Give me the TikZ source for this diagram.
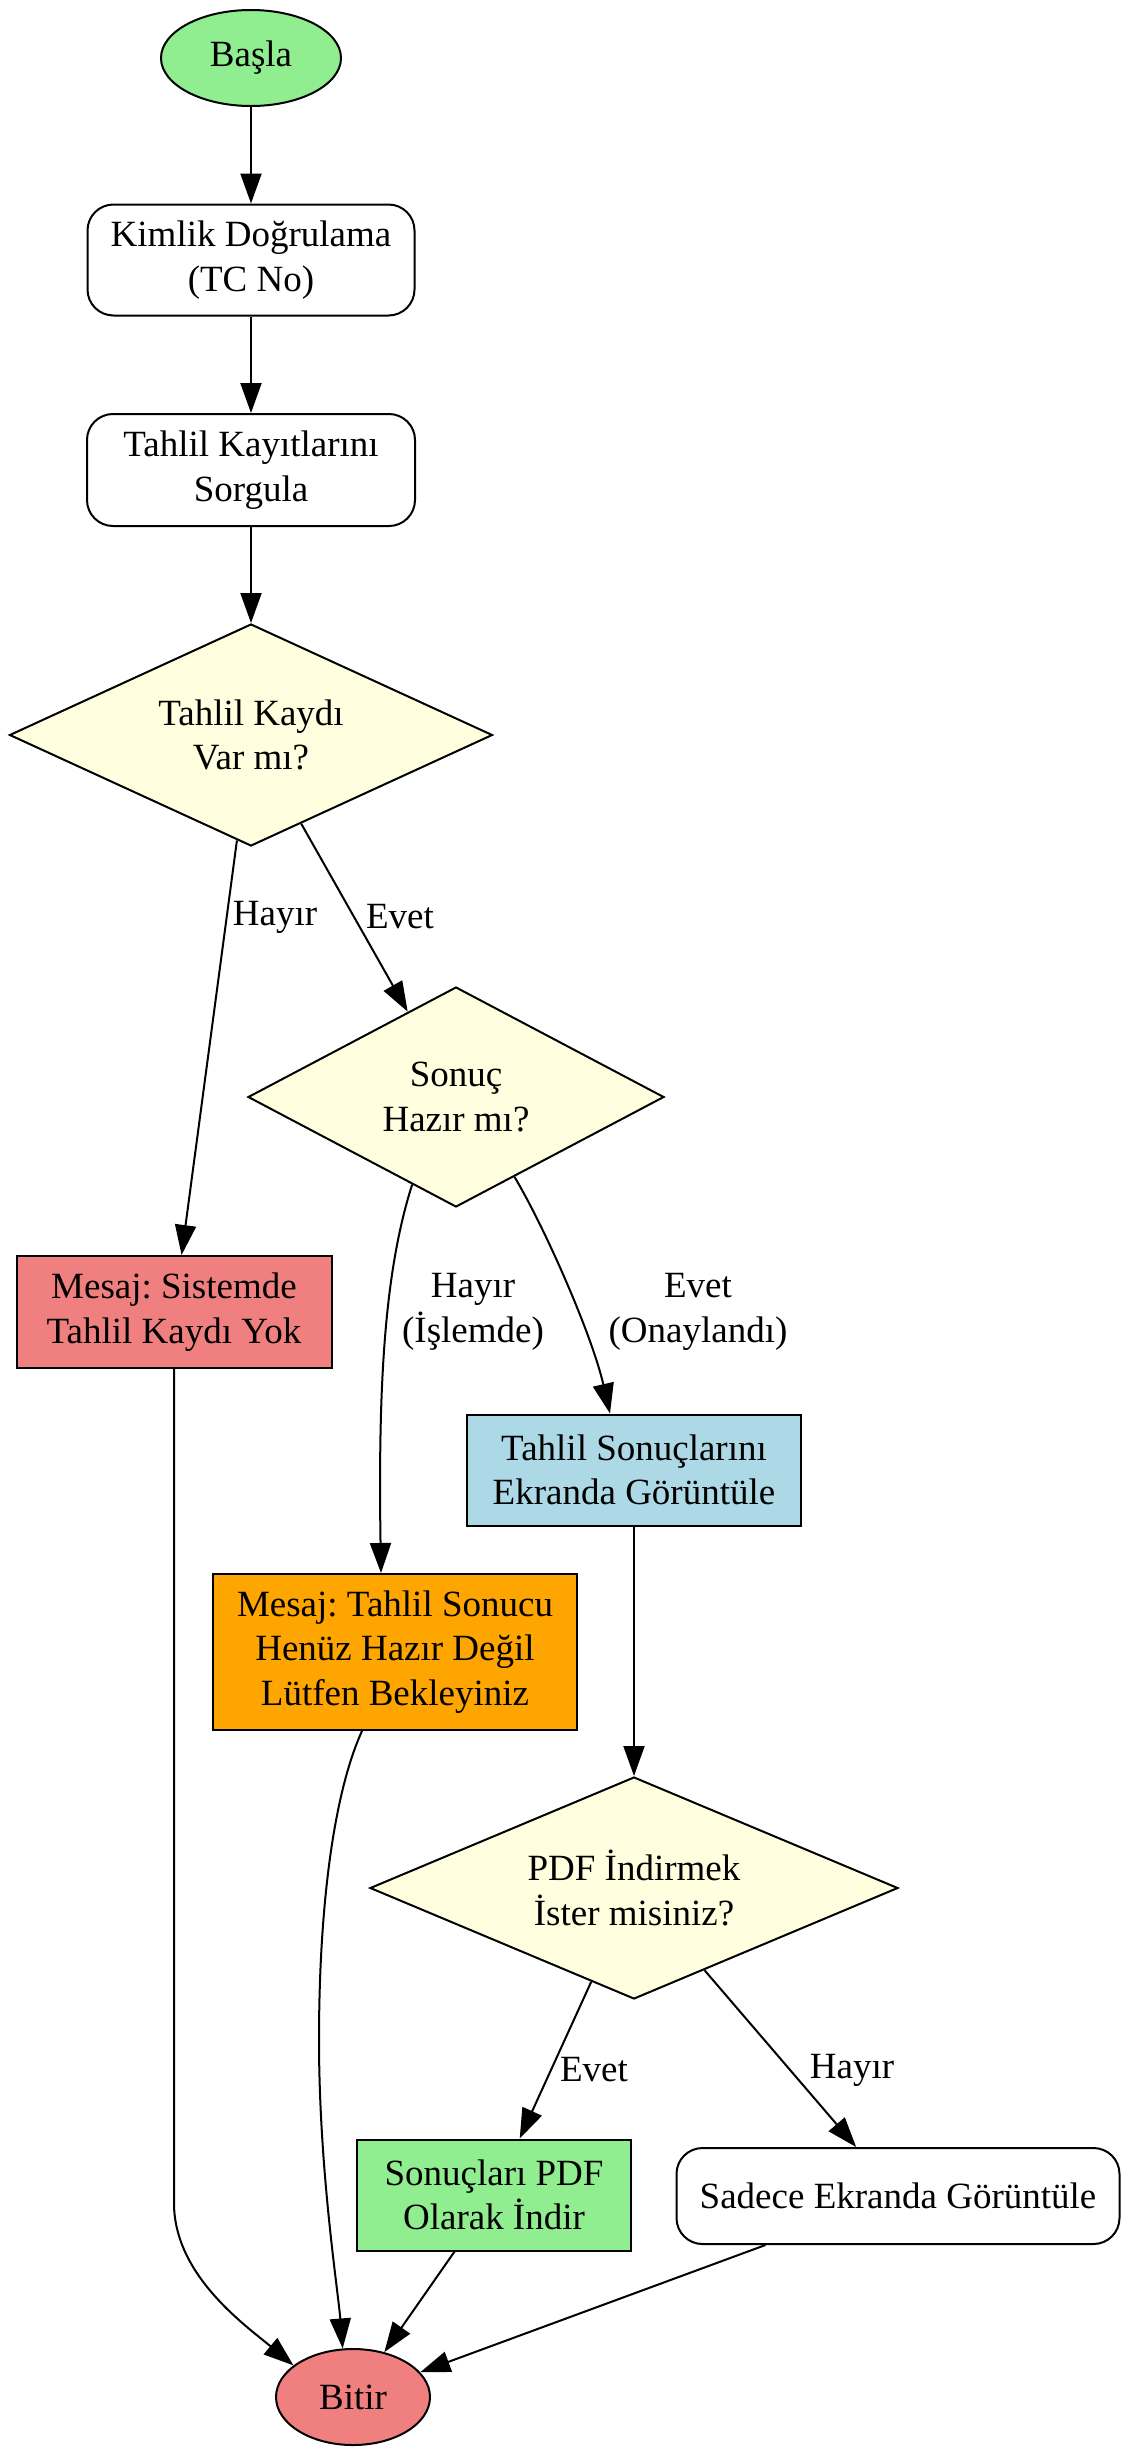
\documentclass[tikz,border=0pt]{standalone}
\usepackage{fontspec}
\setmainfont{Liberation Serif}
\frenchspacing
\usetikzlibrary{shapes.geometric,arrows.meta,calc}
\definecolor{lgreen}{HTML}{90EE90}
\definecolor{lcoral}{HTML}{F08080}
\definecolor{lblue}{HTML}{ADD8E6}
\definecolor{gvorange}{HTML}{FFA500}
\definecolor{lyellow}{HTML}{FFFFE0}
\begin{document}
\begin{tikzpicture}[x=1pt,y=-1pt,
  base/.style={draw=black,line width=2pt,font=\fontsize{37}{44.5}\selectfont\frenchspacing,align=center,inner sep=0pt},
  term/.style={base,ellipse,minimum width=180pt,minimum height=96pt},
  rbox/.style={base,rectangle,rounded corners=26pt,fill=white},
  sbox/.style={base,rectangle},
  dec/.style={base,diamond,fill=lyellow},
  arr/.style={line width=2pt,-{Triangle[length=30pt,width=21pt]}},
  lbl/.style={font=\fontsize{37}{44.5}\selectfont,align=center,inner sep=0pt}]
\useasboundingbox (0,0) rectangle (1130,2458);

\node[term,fill=lgreen] (start) at (251,58) {Başla};
\node[rbox,minimum width=327pt,minimum height=111pt] (kimlik) at (251,260) {Kimlik Doğrulama\\(TC No)};
\node[rbox,minimum width=328pt,minimum height=112pt] (sorgu) at (251,470) {Tahlil Kayıtlarını\\Sorgula};
\node[dec,shape aspect=2.18,minimum width=483pt,minimum height=222pt] (d1) at (251,735) {Tahlil Kaydı\\Var mı?};
\node[dec,shape aspect=1.89,minimum width=416pt,minimum height=220pt] (d2) at (456,1097) {Sonuç\\Hazır mı?};
\node[sbox,fill=lcoral,minimum width=315pt,minimum height=112pt] (m1) at (174,1312) {Mesaj: Sistemde\\Tahlil Kaydı Yok};
\node[sbox,fill=lblue,minimum width=334pt,minimum height=111pt] (ts) at (634,1470) {Tahlil Sonuçlarını\\Ekranda Görüntüle};
\node[sbox,fill=gvorange,minimum width=364pt,minimum height=156pt] (m2) at (395,1652) {Mesaj: Tahlil Sonucu\\Henüz Hazır Değil\\Lütfen Bekleyiniz};
\node[dec,shape aspect=2.38,minimum width=528pt,minimum height=222pt] (d3) at (634,1888) {PDF İndirmek\\İster misiniz?};
\node[sbox,fill=lgreen,minimum width=274pt,minimum height=111pt] (pdf) at (494,2195) {Sonuçları PDF\\Olarak İndir};
\node[rbox,minimum width=443pt,minimum height=96pt] (sadece) at (898,2196) {Sadece Ekranda Görüntüle};
\node[term,fill=lcoral,minimum width=154pt] (bitir) at (353,2397) {Bitir};

\draw[arr] (start) -- (kimlik);
\draw[arr] (kimlik) -- (sorgu);
\draw[arr] (sorgu) -- (d1);
\draw[arr] (d1) -- (m1);
\draw[arr] (d1) -- (d2);
\draw[arr] ($(d2.south)!0.21!(d2.west)$) .. controls (385,1270) and (378,1380) .. ($(m2.north)+(-14,0)$);
\draw[arr] ($(d2.south)!0.28!(d2.east)$) .. controls (545,1228) and (592,1335) .. ($(ts.north)+(-24,0)$);
\draw[arr] (ts) -- (d3);
\draw[arr] (d3) -- (pdf);
\draw[arr] (d3) -- (sadece);
\draw[arr] (m1.south) -- (174,2203) .. controls (174,2275) and (245,2325) .. (bitir.152);
\draw[arr] ($(m2.south)+(-33,0)$) .. controls (335,1790) and (319,1900) .. (319,2040) .. controls (319,2170) and (338,2290) .. (bitir.102);
\draw[arr] (pdf) -- (bitir);
\draw[arr] (sadece) -- (bitir);

\node[lbl] (l1) at (275,917) {Hayır};
\node[lbl] (l2) at (400,917) {Evet};
\node[lbl] (l3) at (473,1312) {Hayır\\(İşlemde)};
\node[lbl] (l4) at (698,1312) {Evet\\(Onaylandı)};
\node[lbl] (l5) at (594,2070) {Evet};
\node[lbl] (l6) at (852,2070) {Hayır};
\end{tikzpicture}
\end{document}
